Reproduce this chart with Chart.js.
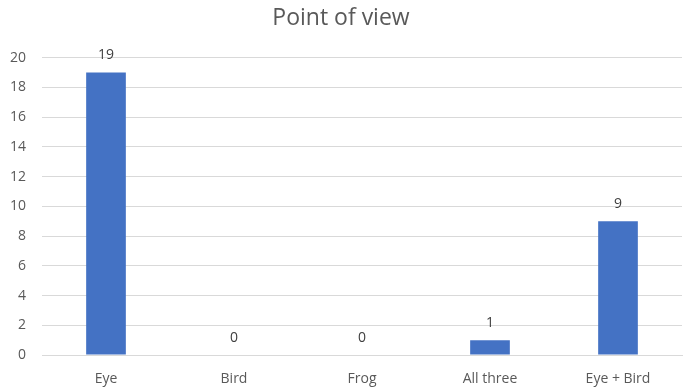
<!DOCTYPE html>
<html>
<head>
<meta charset="utf-8">
<title>Point of view</title>
<script src="https://cdn.jsdelivr.net/npm/chart.js@4"></script>
<style>
  html, body { margin: 0; padding: 0; background: #fff; }
  #wrap { width: 683px; height: 389px; position: relative; }
</style>
</head>
<body>
<div id="wrap"><canvas id="myChart"></canvas></div>
<script>
const categorias = ['Eye', 'Bird', 'Frog', 'All three', 'Eye + Bird'];
const valores = [19, 0, 0, 1, 9];
const tituloTexto = 'Point of view';

const fuente = "'Open Sans', 'Liberation Sans', sans-serif";
const gris = '#595959';

// etiquetas de valor encima de cada barra
const etiquetasValor = {
    id: 'etiquetasValor',
    afterDatasetsDraw(chart) {
        const ctx = chart.ctx;
        const meta = chart.getDatasetMeta(0);
        ctx.save();
        ctx.font = '14px ' + fuente;
        ctx.fillStyle = '#404040';
        ctx.textAlign = 'center';
        ctx.textBaseline = 'alphabetic';
        meta.data.forEach((barra, i) => {
            ctx.fillText(String(valores[i]), barra.x, barra.y - 13);
        });
        ctx.restore();
    }
};

const ctx = document.getElementById('myChart').getContext('2d');
new Chart(ctx, {
    type: 'bar',
    data: {
        labels: categorias,
        datasets: [{
            label: tituloTexto,
            data: valores,
            backgroundColor: '#4472C4',
            borderWidth: 0,
            categoryPercentage: 1,
            barPercentage: 0.31
        }]
    },
    options: {
        responsive: true,
        maintainAspectRatio: false,
        animation: false,
        layout: { padding: { left: 0, right: 1, top: 0, bottom: 0 } },
        plugins: {
            legend: { display: false },
            tooltip: { enabled: false },
            title: {
                display: true,
                text: tituloTexto,
                color: gris,
                font: { family: fuente, size: 23, weight: 'normal' },
                padding: { top: 5, bottom: 25 }
            }
        },
        scales: {
            y: {
                min: 0,
                max: 20,
                ticks: {
                    stepSize: 2,
                    color: gris,
                    font: { family: fuente, size: 14 },
                    padding: 16
                },
                grid: { color: '#d9d9d9', drawTicks: false },
                border: { display: false },
                afterFit(scale) { scale.width = 42; }
            },
            x: {
                ticks: {
                    color: gris,
                    font: { family: fuente, size: 14 },
                    padding: 8,
                    maxRotation: 0
                },
                grid: { display: false },
                border: { color: '#d9d9d9' },
                afterFit(scale) { scale.height = 34; }
            }
        }
    },
    plugins: [etiquetasValor]
});
</script>
</body>
</html>
